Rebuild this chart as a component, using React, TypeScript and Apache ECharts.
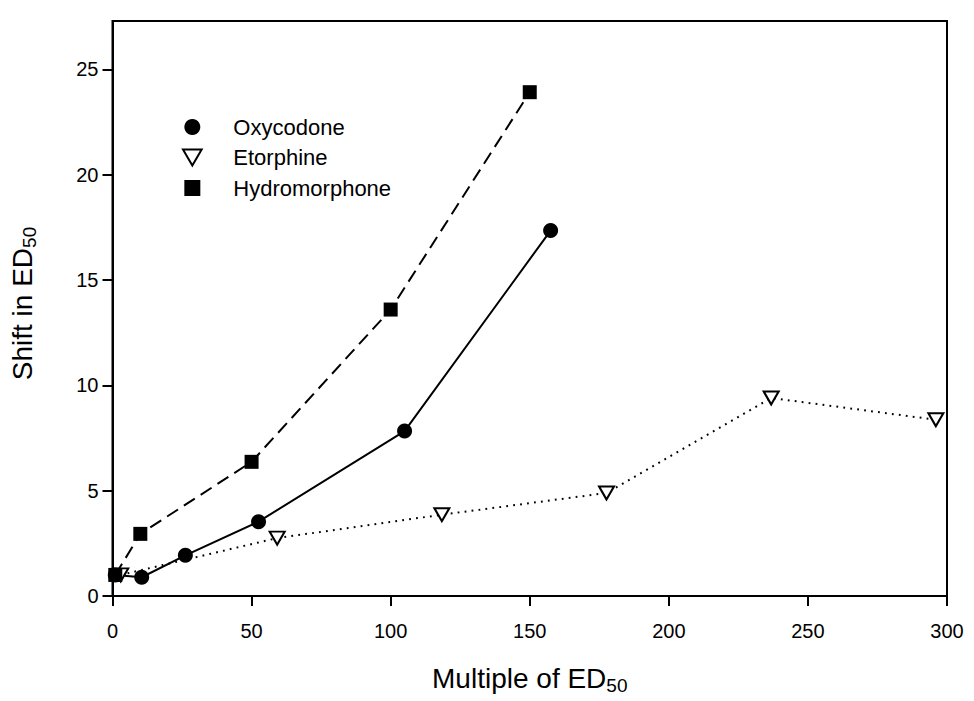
import React, { useEffect, useRef } from "react";
import * as echarts from "echarts";

const seriesNames = ["Oxycodone", "Etorphine", "Hydromorphone"];
const oxycodone: [number, number][] = [
  [1, 1], [10.5, 0.89], [26.2, 1.93], [52.5, 3.53], [105, 7.83], [157.5, 17.35],
];
const etorphine: [number, number][] = [
  [2.96, 1.0], [59.2, 2.75], [118.4, 3.86], [177.6, 4.89], [236.8, 9.4], [296, 8.37],
];
const hydromorphone: [number, number][] = [
  [1, 1], [10, 2.95], [50, 6.37], [100, 13.6], [150, 23.92],
];
const xTicks = [0, 50, 100, 150, 200, 250, 300];
const yTicks = [0, 5, 10, 15, 20, 25];

const FONT = "'Liberation Sans', Arial, sans-serif";
const TRI_DOWN = "path://M0,0 L14,0 L7,12 Z";
const SQUARE = "path://M0,0 L10,0 L10,10 L0,10 Z";

export default function App() {
  const ref = useRef<HTMLDivElement>(null);
  useEffect(() => {
    if (!ref.current) return;
    const chart = echarts.init(ref.current, undefined, { renderer: "svg" });
    chart.setOption({
      animation: false,
      backgroundColor: "#fff",
      textStyle: { fontFamily: FONT },
      grid: {
        left: 112.5,
        right: 27,
        top: 21,
        bottom: 105,
        show: true,
        borderColor: "#000",
        borderWidth: 2,
        containLabel: false,
      },
      legend: {
        orient: "vertical",
        left: 177,
        top: 111,
        itemWidth: 72,
        itemHeight: 16,
        itemGap: 8.5,
        textStyle: { fontSize: 22, color: "#000", fontFamily: FONT },
        data: [
          { name: "Oxycodone", icon: "circle", itemStyle: { color: "#000", borderWidth: 0 } },
          { name: "Etorphine", icon: TRI_DOWN, itemStyle: { color: "#fff", borderColor: "#000", borderWidth: 2 } },
          { name: "Hydromorphone", icon: SQUARE, itemStyle: { color: "#000", borderWidth: 0 } },
        ],
      },
      xAxis: {
        type: "value",
        min: 0,
        max: 300,
        interval: 50,
        name: "{a|Multiple of ED}{b|50}",
        nameLocation: "middle",
        nameGap: 66,
        nameTextStyle: {
          rich: {
            a: { fontSize: 28, color: "#000", fontFamily: FONT },
            b: { fontSize: 19, color: "#000", fontFamily: FONT, padding: [14, 0, 0, 0] },
          },
        },
        axisLine: { show: true, onZero: false, lineStyle: { color: "#000", width: 2 } },
        axisTick: { show: true, inside: false, length: 10, lineStyle: { color: "#000", width: 2 }, customValues: xTicks },
        axisLabel: { color: "#000", fontSize: 20, margin: 25, fontFamily: FONT, customValues: xTicks },
        splitLine: { show: false },
      },
      yAxis: {
        type: "value",
        min: 0,
        max: 27.3,
        interval: 5,
        name: "{a|Shift in ED}{b|50}",
        nameLocation: "middle",
        nameGap: 74,
        nameRotate: 90,
        nameTextStyle: {
          padding: [0, 0, 0, 10],
          rich: {
            a: { fontSize: 28, color: "#000", fontFamily: FONT },
            b: { fontSize: 19, color: "#000", fontFamily: FONT, padding: [14, 0, 0, 0] },
          },
        },
        axisLine: { show: true, onZero: false, lineStyle: { color: "#000", width: 2 } },
        axisTick: { show: true, inside: false, length: 10, lineStyle: { color: "#000", width: 2 }, customValues: yTicks },
        axisLabel: { color: "#000", fontSize: 20, margin: 14, fontFamily: FONT, customValues: yTicks },
        splitLine: { show: false },
      },
      series: [
        {
          name: seriesNames[0],
          type: "line",
          data: oxycodone,
          symbol: "circle",
          symbolSize: 15,
          itemStyle: { color: "#000" },
          lineStyle: { color: "#000", width: 2, type: "solid" },
          z: 2,
        },
        {
          name: seriesNames[1],
          type: "line",
          data: etorphine,
          symbol: "triangle",
          symbolRotate: 180,
          symbolSize: [15, 13],
          itemStyle: { color: "#fff", borderColor: "#000", borderWidth: 2 },
          lineStyle: { color: "#000", width: 2, type: [1.8, 5.2] },
          z: 3,
        },
        {
          name: seriesNames[2],
          type: "line",
          data: hydromorphone,
          symbol: "rect",
          symbolSize: 14,
          itemStyle: { color: "#000" },
          lineStyle: { color: "#000", width: 2, type: [13, 7] },
          z: 4,
        },
      ],
    });
    return () => chart.dispose();
  }, []);
  return (
    <div
      ref={ref}
      style={{ position: "fixed", left: 0, top: 0, width: 974, height: 701, background: "#fff" }}
    />
  );
}
